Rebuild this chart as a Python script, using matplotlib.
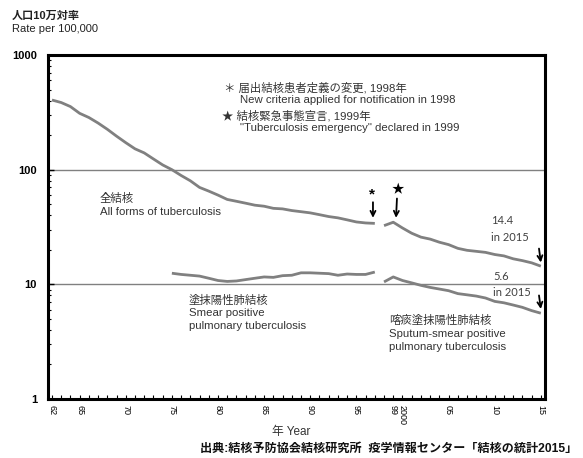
import matplotlib
matplotlib.use("Agg")
import matplotlib.pyplot as plt
from matplotlib.ticker import FixedLocator, NullFormatter

plt.rcParams['font.family'] = ['Liberation Sans', 'Noto Sans CJK JP', 'DejaVu Sans']

# 全結核 All forms (rate per 100,000)
years_all_1 = list(range(1962, 1998))
all_forms_1 = [405, 385, 355, 310, 285, 255, 225, 196, 172, 152, 140, 124, 110, 100,
               89, 80, 70, 65, 60, 55, 53, 51, 49, 48, 46, 45.5, 44, 43, 42, 40.5,
               39, 38, 36.5, 35, 34.3, 34.0]
years_all_2 = list(range(1998, 2016))
all_forms_2 = [32.5, 34.8, 31.0, 27.9, 25.8, 24.8, 23.3, 22.2, 20.6, 19.8, 19.4, 19.0,
               18.2, 17.7, 16.7, 16.1, 15.4, 14.4]

# 塗抹陽性肺結核 Smear positive
years_sm_1 = list(range(1975, 1998))
smear_1 = [12.5, 12.2, 12.0, 11.8, 11.3, 10.8, 10.6, 10.7, 11.0, 11.3, 11.6, 11.5,
           11.9, 12.0, 12.6, 12.6, 12.5, 12.4, 12.0, 12.3, 12.2, 12.2, 12.8]
# 喀痰塗抹陽性肺結核 Sputum-smear positive
years_sm_2 = list(range(1998, 2016))
smear_2 = [10.5, 11.6, 10.8, 10.3, 9.8, 9.4, 9.1, 8.8, 8.3, 8.1, 7.9, 7.6,
           7.1, 6.9, 6.6, 6.3, 5.9, 5.6]

tick_years = [1962, 1965, 1970, 1975, 1980, 1985, 1990, 1995, 1999, 2000, 2005, 2010, 2015]
tick_labels = ['62', '65', '70', '75', '80', '85', '90', '95', '99', '2000', '05', '10', '15']

W, H = 583, 458
fig = plt.figure(figsize=(W / 100, H / 100), dpi=100)
ax = fig.add_axes([48 / W, 1 - 399 / H, (545 - 48) / W, (399 - 55) / H])


def px(x, y):
    return x / W, 1 - y / H


line_kw = dict(color='#808080', lw=2.0, solid_capstyle='butt')
ax.plot(years_all_1, all_forms_1, **line_kw)
ax.plot(years_all_2, all_forms_2, **line_kw)
ax.plot(years_sm_1, smear_1, **line_kw)
ax.plot(years_sm_2, smear_2, **line_kw)

ax.set_yscale('log')
ax.set_ylim(1, 1000)
ax.set_xlim(1961.57, 2015.45)
ax.axhline(10, color='#808080', lw=1, zorder=0)
ax.axhline(100, color='#808080', lw=1, zorder=0)

ax.set_yticks([1, 10, 100, 1000])
ax.set_yticklabels(['1', '10', '100', '1000'], fontsize=8, fontweight='bold')
ax.yaxis.set_minor_formatter(NullFormatter())
ax.tick_params(axis='y', which='major', direction='in', length=4, width=1, pad=8)
ax.tick_params(axis='y', which='minor', direction='in', length=2.5, width=0.8)

ax.set_xticks(tick_years)
ax.set_xticklabels(tick_labels, fontsize=6.5, rotation=-90)
ax.xaxis.set_minor_locator(FixedLocator(range(1962, 2016)))
ax.tick_params(axis='x', which='both', direction='in', length=3, width=0.8, pad=4)

for s in ['left', 'right', 'top', 'bottom']:
    ax.spines[s].set_linewidth(2.2)

# annotations: markers and arrows
arr = dict(arrowstyle='->', color='black', lw=1.3, mutation_scale=9, shrinkA=0, shrinkB=0)
ax.annotate('', xy=(1996.8, 38.0), xytext=(1996.8, 52), arrowprops=arr)
ax.text(1996.7, 53, '*', ha='center', va='bottom', fontsize=11, fontweight='bold')
ax.annotate('', xy=(1999.3, 38.0), xytext=(1999.4, 56), arrowprops=arr)
ax.text(1999.5, 59, '★', ha='center', va='bottom', fontsize=9)
ax.annotate('', xy=(2015.0, 15.5), xytext=(2014.8, 20.5), arrowprops=arr)
ax.annotate('', xy=(2015.0, 6.1), xytext=(2014.8, 8.0), arrowprops=arr)

num_font = ['Lato', 'DejaVu Sans']
ax.text(2009.6, 30.5, '14.4\nin 2015', fontsize=8, color='#404040', family=num_font,
        linespacing=1.6, va='center')
ax.text(2009.8, 10.0, '5.6\nin 2015', fontsize=8, color='#404040', family=num_font,
        linespacing=1.6, va='center')

txt = '#333333'
fig.text(*px(224, 88), '＊ 届出結核患者定義の変更, 1998年', fontsize=8.2, color=txt, va='center')
fig.text(*px(240, 100), 'New criteria applied for notification in 1998', fontsize=8.2, color=txt, va='center')
fig.text(*px(222, 116), '★ 結核緊急事態宣言, 1999年', fontsize=8.2, color=txt, va='center')
fig.text(*px(240, 128), '"Tuberculosis emergency" declared in 1999', fontsize=8.2, color=txt, va='center')

fig.text(*px(100, 198), '全結核', fontsize=8.2, color=txt, va='center')
fig.text(*px(100, 212), 'All forms of tuberculosis', fontsize=8.2, color=txt, va='center')

fig.text(*px(189, 300), '塗抹陽性肺結核', fontsize=8.2, color=txt, va='center')
fig.text(*px(189, 313), 'Smear positive', fontsize=8.2, color=txt, va='center')
fig.text(*px(189, 326), 'pulmonary tuberculosis', fontsize=8.2, color=txt, va='center')

fig.text(*px(389, 320), '喀痰塗抹陽性肺結核', fontsize=8.2, color=txt, va='center')
fig.text(*px(389, 334), 'Sputum-smear positive', fontsize=8.2, color=txt, va='center')
fig.text(*px(389, 347), 'pulmonary tuberculosis', fontsize=8.2, color=txt, va='center')

fig.text(*px(12, 16), '人口10万対率', fontsize=8, fontweight='bold', color='#222222', va='center')
fig.text(*px(12, 29), 'Rate per 100,000', fontsize=8, color='#222222', va='center')

fig.text(*px(291, 432), '年 Year', fontsize=8.5, color='#333333', ha='center', va='center')
fig.text(*px(200, 449), '出典:結核予防協会結核研究所  疫学情報センター「結核の統計2015」',
         fontsize=8.7, fontweight='bold', color='#111111', va='center')

fig.savefig('out.png', dpi=100)
